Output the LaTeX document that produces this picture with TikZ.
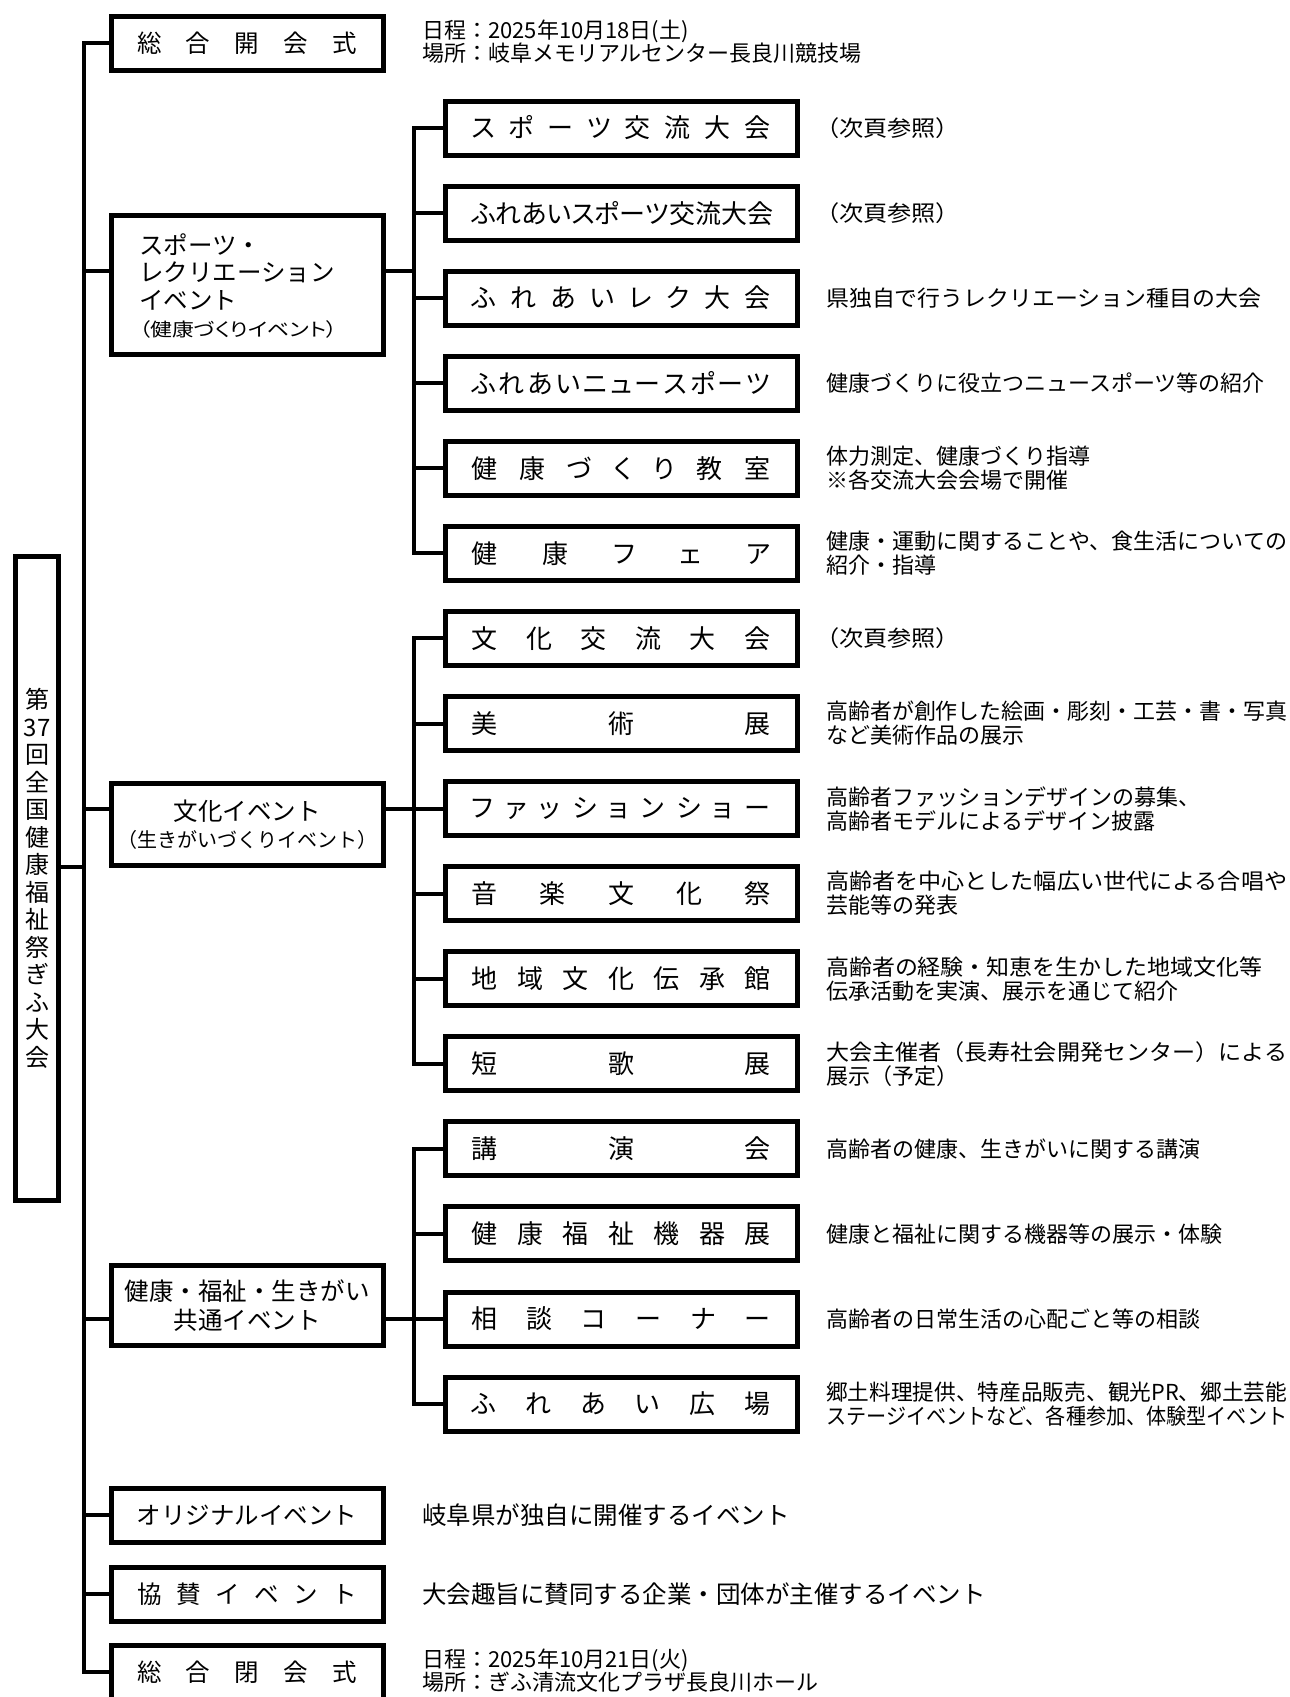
\documentclass[tikz,border=0pt]{standalone}
\usepackage{fontspec}
\usepackage{graphicx}
\setmainfont{Noto Sans CJK JP}
\newfontfamily\pfont[RawFeature=+palt]{Noto Sans CJK JP}
\newcommand\jst[2]{\makebox[#1][s]{\spaceskip=0pt plus 1fil\relax #2}}
\newcommand\fitw[2]{\resizebox{#1}{\height}{#2}}
\tikzset{
  lbox/.style={draw, line width=5pt, inner sep=0pt, minimum width=272pt, minimum height=54pt,
    font=\fontsize{24.5}{29}\selectfont},
  mbox/.style={draw, line width=5pt, inner sep=0pt, minimum width=352pt, minimum height=54pt,
    font=\pfont\fontsize{26}{30}\selectfont},
  conn/.style={line width=4pt},
  desc/.style={anchor=west, inner sep=0pt, align=left, font=\fontsize{22}{24}\selectfont},
  info/.style={anchor=west, inner sep=0pt, align=left, font=\fontsize{22}{23}\selectfont},
  bigdesc/.style={anchor=west, inner sep=0pt, font=\fontsize{24.5}{29}\selectfont},
}
\begin{document}
\begin{tikzpicture}[x=1pt,y=-1pt]
\useasboundingbox (0,0) rectangle (1290,1697);
\fill[white] (0,0) rectangle (1290,1697);

% title box
\node[draw, line width=5pt, inner sep=0pt, minimum width=43pt, minimum height=644pt,
  align=center, font=\fontsize{24}{27.5}\selectfont] (title) at (37,878.5)
  {第\\37\\回\\全\\国\\健\\康\\福\\祉\\祭\\ぎ\\ふ\\大\\会};

% level 1
\node[lbox] (open) at (247,43) {\jst{220pt}{総 合 開 会 式}};
\node[lbox, minimum height=139pt] (sports) at (247,285) {};
\node[anchor=west, inner sep=0pt, align=left, font=\fontsize{24.5}{27.5}\selectfont]
  (sportsT) at (139,286)
  {スポーツ・\\レクリエーション\\イベント\\{\pfont\fontsize{18.5}{22}\selectfont \fitw{198pt}{（健康づくりイベント）}}};
\node[lbox, minimum height=82pt, align=center, font=\fontsize{24.5}{27}\selectfont] (culture) at (247,824.5)
  {文化イベント\\{\fontsize{20}{22}\selectfont （生きがいづくりイベント）}};
\node[lbox, minimum height=80pt, align=center] (common) at (247,1305.5)
  {健康・福祉・生きがい\\共通イベント};
\node[lbox] (orig) at (247,1515) {オリジナルイベント};
\node[lbox] (kyosan) at (247,1594) {\jst{220pt}{協 賛 イ ベ ン ト}};
\node[lbox] (close) at (247,1672) {\jst{220pt}{総 合 閉 会 式}};

% level 2
\node[mbox] (s0) at (621,128.0) {\jst{299pt}{ス ポ ー ツ 交 流 大 会}};
\node[mbox] (s1) at (621,213.1) {\jst{299pt}{ふ れ あ い ス ポ ー ツ 交 流 大 会}};
\node[mbox] (s2) at (621,298.1) {\jst{299pt}{ふ れ あ い レ ク 大 会}};
\node[mbox] (s3) at (621,383.2) {\jst{299pt}{ふ れ あ い ニ ュ ー ス ポ ー ツ}};
\node[mbox] (s4) at (621,468.3) {\jst{299pt}{健 康 づ く り 教 室}};
\node[mbox] (s5) at (621,553.4) {\jst{299pt}{健 康 フ ェ ア}};
\node[mbox] (s6) at (621,638.4) {\jst{299pt}{文 化 交 流 大 会}};
\node[mbox] (s7) at (621,723.5) {\jst{299pt}{美 術 展}};
\node[mbox] (s8) at (621,808.6) {\jst{299pt}{フ ァ ッ シ ョ ン シ ョ ー}};
\node[mbox] (s9) at (621,893.6) {\jst{299pt}{音 楽 文 化 祭}};
\node[mbox] (s10) at (621,978.7) {\jst{299pt}{地 域 文 化 伝 承 館}};
\node[mbox] (s11) at (621,1063.8) {\jst{299pt}{短 歌 展}};
\node[mbox] (s12) at (621,1148.8) {\jst{299pt}{講 演 会}};
\node[mbox] (s13) at (621,1233.9) {\jst{299pt}{健 康 福 祉 機 器 展}};
\node[mbox] (s14) at (621,1319.0) {\jst{299pt}{相 談 コ ー ナ ー}};
\node[mbox] (s15) at (621,1404.1) {\jst{299pt}{ふ れ あ い 広 場}};

% descriptions
\node[info] (t0) at (422,41.5) {日程：2025年10月18日(土)\\場所：岐阜メモリアルセンター長良川競技場};
\node[desc, font=\pfont\fontsize{22}{24}\selectfont] (d0) at (827,128.0) {\fitw{121pt}{（次頁参照）}};
\node[desc, font=\pfont\fontsize{22}{24}\selectfont] (d1) at (827,213.1) {\fitw{121pt}{（次頁参照）}};
\node[desc] (d2) at (826,298.1) {\fitw{435pt}{県独自で行うレクリエーション種目の大会}};
\node[desc] (d3) at (826,383.2) {健康づくりに役立つニュースポーツ等の紹介};
\node[desc] (d4) at (826,468.3) {体力測定、健康づくり指導\\※各交流大会会場で開催};
\node[desc] (d5) at (826,553.4) {\fitw{461pt}{健康・運動に関することや、食生活についての}\\紹介・指導};
\node[desc, font=\pfont\fontsize{22}{24}\selectfont] (d6) at (827,638.4) {\fitw{121pt}{（次頁参照）}};
\node[desc] (d7) at (826,723.5) {\fitw{461pt}{高齢者が創作した絵画・彫刻・工芸・書・写真}\\など美術作品の展示};
\node[desc] (d8) at (826,808.6) {高齢者ファッションデザインの募集、\\高齢者モデルによるデザイン披露};
\node[desc] (d9) at (826,893.6) {\fitw{461pt}{高齢者を中心とした幅広い世代による合唱や}\\芸能等の発表};
\node[desc] (d10) at (826,978.7) {\fitw{436pt}{高齢者の経験・知恵を生かした地域文化等}\\伝承活動を実演、展示を通じて紹介};
\node[desc] (d11) at (826,1063.8) {\fitw{461pt}{大会主催者（長寿社会開発センター）による}\\展示（予定）};
\node[desc] (d12) at (826,1148.8) {高齢者の健康、生きがいに関する講演};
\node[desc] (d13) at (826,1233.9) {健康と福祉に関する機器等の展示・体験};
\node[desc] (d14) at (826,1319.0) {高齢者の日常生活の心配ごと等の相談};
\node[desc] (d15) at (826,1404.1) {\fitw{461pt}{郷土料理提供、特産品販売、観光PR、郷土芸能}\\\fitw{461pt}{ステージイベントなど、各種参加、体験型イベント}};
\node[bigdesc] (o1) at (422,1515) {岐阜県が独自に開催するイベント};
\node[bigdesc] (o2) at (422,1594) {大会趣旨に賛同する企業・団体が主催するイベント};
\node[info] (t1) at (422,1671) {日程：2025年10月21日(火)\\場所：ぎふ清流文化プラザ長良川ホール};

% connectors
\coordinate (T) at (83.5,0);
\coordinate (S) at (413.5,0);
\coordinate (jt) at (0,867);
\coordinate (js) at (0,271);

\draw[conn] (open.west) -- (T |- open.west) -- (T |- close.west) -- (close.west);
\draw[conn] (title.east |- jt) -- (T |- jt);
\draw[conn] (T |- js) -- (sports.west |- js);
\draw[conn] (T |- s8.west) -- (culture.west |- s8.west);
\draw[conn] (T |- s14.west) -- (common.west |- s14.west);
\draw[conn] (T |- orig.west) -- (orig.west);
\draw[conn] (T |- kyosan.west) -- (kyosan.west);

\draw[conn] (sports.east |- js) -- (S |- js);
\draw[conn] (culture.east |- s8.west) -- (s8.west);
\draw[conn] (common.east |- s14.west) -- (s14.west);

\draw[conn] (s0.west) -- (S |- s0.west) -- (S |- s5.west) -- (s5.west);
\foreach \i in {1,2,3,4} \draw[conn] (S |- s\i.west) -- (s\i.west);
\draw[conn] (s6.west) -- (S |- s6.west) -- (S |- s11.west) -- (s11.west);
\foreach \i in {7,9,10} \draw[conn] (S |- s\i.west) -- (s\i.west);
\draw[conn] (s12.west) -- (S |- s12.west) -- (S |- s15.west) -- (s15.west);
\draw[conn] (S |- s13.west) -- (s13.west);
\end{tikzpicture}
\end{document}
